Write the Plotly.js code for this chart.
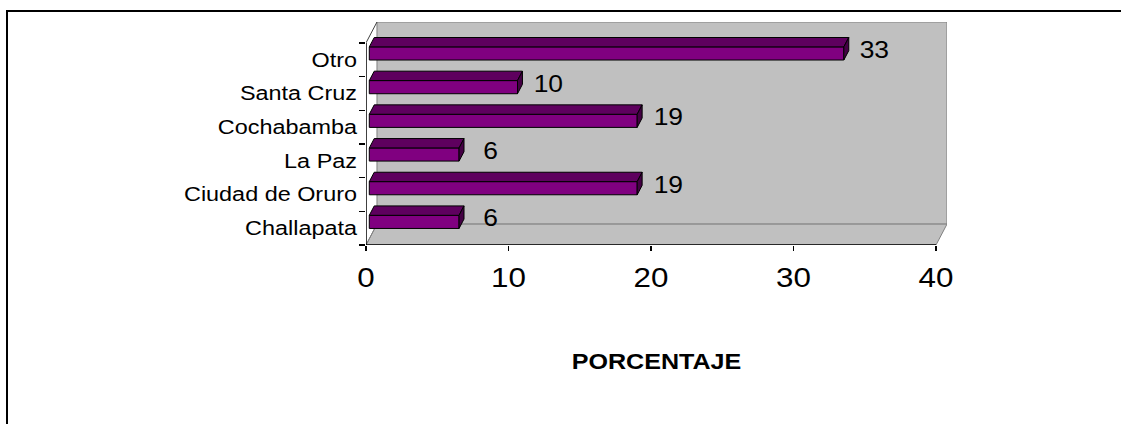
<!DOCTYPE html>
<html>
<head>
<meta charset="utf-8">
<script src="https://cdn.plot.ly/plotly-3.0.1.min.js"></script>
<style>
  html, body { margin: 0; padding: 0; background: #ffffff; }
  #wrap { position: relative; width: 1121px; height: 424px; overflow: hidden; }
  #chart { position: absolute; left: 0; top: 0; width: 1121px; height: 424px; }
  #frame { position: absolute; left: 6px; top: 10px; width: 1130px; height: 430px;
           border-left: 2px solid #000; border-top: 2px solid #000; pointer-events: none; }
</style>
</head>
<body>
<div id="wrap">
  <div id="chart"></div>
  <div id="frame"></div>
</div>
<script>
// ---- data (bottom to top) ----
const categories = ["Challapata", "Ciudad de Oruro", "La Paz", "Cochabamba", "Santa Cruz", "Otro"];
const percentages = [6.3, 18.8, 6.3, 18.8, 10.4, 33.3];
const xTickValues = [0, 10, 20, 30, 40];
const axisTitle = "PORCENTAJE";

// ---- 3D geometry (depth expressed in axis units) ----
const xMax = 40;
const depthX = 0.77;     // depth offset along value axis
const depthY = 0.62;     // depth offset along category axis
const f0 = 0.3, f1 = 0.75;  // bar front/back depth fractions
const thick = 0.39;         // bar thickness (category units)
const nCat = categories.length;
const idx = categories.map((c, i) => i);

const frontColor = "#800080";
const topColor = "#5e005e";
const sideColor = "#440044";
const wallColor = "#c0c0c0";
const edgeGray = "#808080";
const FONT = "Liberation Sans, Arial, sans-serif";

const yc = idx.map(i => i + f0 * depthY);
const ddx = (f1 - f0) * depthX, ddy = (f1 - f0) * depthY;

const topX = [], topY = [], sideX = [], sideY = [];
percentages.forEach((v, i) => {
  const x0 = f0 * depthX, x1 = v + f0 * depthX;
  const yt = yc[i] + thick / 2, yb = yc[i] - thick / 2;
  topX.push(x0, x1, x1 + ddx, x0 + ddx, x0, null);
  topY.push(yt, yt, yt + ddy, yt + ddy, yt, null);
  sideX.push(x1, x1, x1 + ddx, x1 + ddx, x1, null);
  sideY.push(yb, yt, yt + ddy, yb + ddy, yb, null);
});

const traces = [
  {
    type: "bar", orientation: "h",
    x: percentages, y: yc, base: f0 * depthX, width: thick,
    marker: { color: frontColor, line: { color: "#000", width: 1 } },
    hoverinfo: "skip", showlegend: false, xaxis: "x", yaxis: "y"
  },
  {
    type: "scatter", mode: "lines", x: topX, y: topY, fill: "toself",
    fillcolor: topColor, line: { color: "#000", width: 1 },
    hoverinfo: "skip", showlegend: false
  },
  {
    type: "scatter", mode: "lines", x: sideX, y: sideY, fill: "toself",
    fillcolor: sideColor, line: { color: "#000", width: 1 },
    hoverinfo: "skip", showlegend: false
  },
  {
    type: "scatter", mode: "markers", x: [0], y: [0], yaxis: "y2",
    marker: { opacity: 0 }, hoverinfo: "skip", showlegend: false
  }
];

const yLo = -0.5, yHi = nCat - 0.5;
const yRange = [yLo, yHi + depthY];
const boundaries = [];
for (let k = 0; k <= nCat; k++) boundaries.push(k - 0.5);

const shapes = [
  { type: "rect", xref: "x", yref: "y", layer: "below",
    x0: depthX, x1: xMax + depthX, y0: yLo + depthY, y1: yHi + depthY,
    fillcolor: wallColor, line: { color: edgeGray, width: 1 } },
  { type: "path", xref: "x", yref: "y", layer: "below",
    path: `M 0 ${yLo} L ${xMax} ${yLo} L ${xMax + depthX} ${yLo + depthY} L ${depthX} ${yLo + depthY} Z`,
    fillcolor: wallColor, line: { color: edgeGray, width: 1 } },
  { type: "line", xref: "x", yref: "y", x0: 0, x1: xMax, y0: yLo, y1: yLo,
    line: { color: "#000", width: 1.5 } },
  { type: "line", xref: "x", yref: "y", x0: 0, x1: 0, y0: yLo, y1: yHi,
    line: { color: "#000", width: 1.5 } },
  { type: "line", xref: "x", yref: "y", layer: "below", x0: 0, x1: depthX, y0: yHi, y1: yHi + depthY,
    line: { color: "#404040", width: 1 } },
  { type: "line", xref: "x", yref: "y", layer: "below", x0: 0, x1: depthX, y0: yLo, y1: yLo + depthY,
    line: { color: edgeGray, width: 1 } }
];

const annotations = percentages.map((v, i) => ({
  x: v + f0 * depthX, y: yc[i], xref: "x", yref: "y",
  text: String(Math.round(v)), showarrow: false,
  xanchor: "center", yanchor: "middle", xshift: 31, yshift: 4,
  font: { family: FONT, size: 24, color: "#000" }
}));

const layout = {
  width: 1121, height: 424,
  margin: { l: 366, r: 174, t: 22, b: 179, pad: 0 },
  paper_bgcolor: "rgba(0,0,0,0)", plot_bgcolor: "rgba(0,0,0,0)",
  font: { family: FONT, color: "#000" },
  xaxis: {
    range: [0, xMax + depthX], tickmode: "array", tickvals: xTickValues,
    ticks: "outside", ticklen: 5, tickwidth: 1.5, tickcolor: "#000",
    showline: false, showgrid: false, zeroline: false, ticklabelstandoff: 2,
    tickfont: { size: 28, color: "#000" },
    title: { text: "<b>" + axisTitle + "</b>", font: { size: 22, color: "#000" }, standoff: 62 }
  },
  yaxis: {
    range: yRange, tickmode: "array", tickvals: boundaries,
    ticks: "outside", ticklen: 6, tickwidth: 1.5, tickcolor: "#000",
    showticklabels: false, showline: false, showgrid: false, zeroline: false
  },
  yaxis2: {
    overlaying: "y", side: "left", range: yRange, tickmode: "array",
    tickvals: idx, ticktext: categories, ticks: "", ticklabelstandoff: 8,
    showline: false, showgrid: false, zeroline: false,
    tickfont: { size: 20, color: "#000" }
  },
  shapes: shapes,
  annotations: annotations,
  showlegend: false
};

// The reference text is slightly widened; adjust glyph width via SVG textLength.
function stretchText(root, selector, factor) {
  root.querySelectorAll(selector).forEach(t => {
    const w = t.getComputedTextLength();
    if (w > 0) {
      t.setAttribute("textLength", (w * factor).toFixed(1));
      t.setAttribute("lengthAdjust", "spacingAndGlyphs");
    }
  });
}

Plotly.newPlot("chart", traces, layout, { staticPlot: true, displayModeBar: false }).then(gd => {
  stretchText(gd, ".y2tick text", 1.17);
  stretchText(gd, ".xtick text", 1.12);
  stretchText(gd, ".annotation-text", 1.1);
  stretchText(gd, ".xtitle", 1.14);
});
</script>
</body>
</html>
